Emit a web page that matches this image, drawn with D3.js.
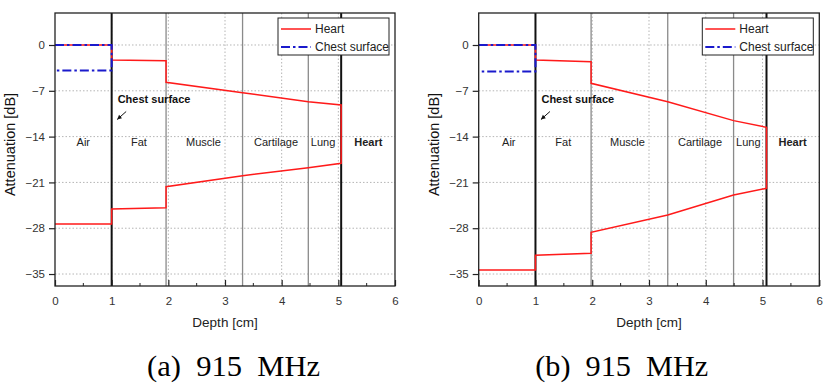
<!DOCTYPE html>
<html>
<head>
<meta charset="utf-8">
<script src="https://cdn.jsdelivr.net/npm/d3@7/dist/d3.min.js"></script>
<style>
  html, body { margin: 0; padding: 0; background: #fff; }
  svg { display: block; }
  text { font-family: "Liberation Sans", Arial, sans-serif; }
  text.subtitle { font-family: "Liberation Serif", "Times New Roman", serif; }
</style>
</head>
<body>
<svg id="chart" width="827" height="387"></svg>
<script>
// ---------------- data ----------------
const xTicks = [0, 1, 2, 3, 4, 5, 6];
const xMinorTicks = [0.5, 1.5, 2.5, 3.5, 4.5, 5.5];
const yTicks = [0, -7, -14, -21, -28, -35];
const layerNames = ["Air", "Fat", "Muscle", "Cartilage", "Lung", "Heart"];
const seriesNames = ["Heart", "Chest surface"];
const subtitles = ["(a)  915  MHz", "(b)  915  MHz"];

// layer boundaries (cm)
const boundariesA = [1, 1.96, 3.31, 4.47, 5.05];
const boundariesB = [1, 1.98, 3.33, 4.49, 5.07];
// layer label x positions (cm)
const labelXA = [0.5, 1.48, 2.62, 3.9, 4.73, 5.53];
const labelXB = [0.53, 1.49, 2.62, 3.9, 4.75, 5.53];

// Heart curve (a): depth, attenuation
const heartDepthA = [0, 1, 1, 1.96, 1.96, 3.31, 4.47, 5.05, 5.05, 4.47, 3.31, 1.96, 1.96, 1, 1, 0];
const heartAttA   = [0, 0, -2.3, -2.42, -5.7, -7.29, -8.66, -9.17, -18.08, -18.75, -19.97, -21.65, -24.86, -25.07, -27.36, -27.36];
// Heart curve (b)
const heartDepthB = [0, 1, 1, 1.98, 1.98, 3.33, 4.49, 5.07, 5.07, 4.49, 3.33, 1.98, 1.98, 1, 1, 0];
const heartAttB   = [0, 0, -2.3, -2.55, -5.86, -8.66, -11.56, -12.58, -21.9, -22.93, -25.98, -28.63, -31.84, -32.14, -34.39, -34.39];
// Chest surface curve
const chestDepthA = [0, 1, 1, 0];
const chestAttA   = [0, 0, -3.9, -3.9];
const chestDepthB = [0, 1, 1, 0];
const chestAttB   = [0, 0, -4.05, -4.05];

// ---------------- drawing ----------------
const svg = d3.select("#chart");
const RED = "#ff1a1a", BLUE = "#1a1acc";

function panel(opts) {
  const { left, right, top, bottom, bounds, labelX, hd, ha, cd, ca, subtitle, subX } = opts;
  const x = d3.scaleLinear().domain([0, 6]).range([left, right]);
  const y = d3.scaleLinear().domain([-36.83, 4.89]).range([bottom, top]);
  const g = svg.append("g");

  // grid
  g.append("g").selectAll("line").data(yTicks).join("line")
    .attr("x1", left).attr("x2", right)
    .attr("y1", d => y(d)).attr("y2", d => y(d))
    .attr("stroke", "#b5b5b5").attr("stroke-width", 1).attr("stroke-dasharray", "1.5,2");
  g.append("g").selectAll("line").data(xTicks.slice(1, -1)).join("line")
    .attr("x1", d => x(d)).attr("x2", d => x(d))
    .attr("y1", top).attr("y2", bottom)
    .attr("stroke", "#b5b5b5").attr("stroke-width", 1).attr("stroke-dasharray", "1.5,2");

  // layer boundaries
  g.append("g").selectAll("line").data(bounds).join("line")
    .attr("x1", d => x(d)).attr("x2", d => x(d))
    .attr("y1", top).attr("y2", bottom)
    .attr("stroke", (d, i) => (i === 0 || i === bounds.length - 1) ? "#111" : "#8a8a8a")
    .attr("stroke-width", (d, i) => (i === 0 || i === bounds.length - 1) ? 2 : 1.3);

  // layer labels
  g.append("g").selectAll("text").data(layerNames).join("text")
    .attr("x", (d, i) => x(labelX[i])).attr("y", y(-14) + 9)
    .attr("text-anchor", "middle").attr("font-size", 11)
    .attr("font-weight", (d, i) => i === layerNames.length - 1 ? "bold" : "normal")
    .attr("fill", "#222").text(d => d);

  // series
  const line = d3.line().x(d => x(d[0])).y(d => y(d[1]));
  g.append("path").datum(hd.map((v, i) => [v, ha[i]]))
    .attr("d", line).attr("fill", "none").attr("stroke", RED).attr("stroke-width", 1.5);
  g.append("path").datum(cd.map((v, i) => [v, ca[i]]))
    .attr("d", line).attr("fill", "none").attr("stroke", BLUE).attr("stroke-width", 2)
    .attr("stroke-dasharray", "9,3,2.5,3");

  // frame
  g.append("rect").attr("x", left).attr("y", top).attr("width", right - left).attr("height", bottom - top)
    .attr("fill", "none").attr("stroke", "#222").attr("stroke-width", 1.3);

  // axes
  const xa = g.append("g").attr("transform", `translate(0,${bottom})`)
    .call(d3.axisBottom(x).tickValues(xTicks).tickSize(-6).tickPadding(11).tickFormat(d3.format("d")));
  xa.select(".domain").remove();
  xa.selectAll("line").attr("stroke", "#222").attr("stroke-width", 1.2);
  xa.selectAll("text").attr("font-size", 11.5).attr("fill", "#333");
  g.append("g").selectAll("line").data(xMinorTicks).join("line")
    .attr("x1", d => x(d)).attr("x2", d => x(d)).attr("y1", bottom).attr("y2", bottom - 3)
    .attr("stroke", "#222").attr("stroke-width", 1);

  const ya = g.append("g").attr("transform", `translate(${left},0)`)
    .call(d3.axisLeft(y).tickValues(yTicks).tickSize(6).tickPadding(4).tickFormat(d3.format("d")));
  ya.select(".domain").remove();
  ya.selectAll("line").attr("stroke", "#222").attr("stroke-width", 1.2);
  ya.selectAll("text").attr("font-size", 11.5).attr("fill", "#333");

  // axis titles
  g.append("text").attr("x", (left + right) / 2).attr("y", 327)
    .attr("text-anchor", "middle").attr("font-size", 13.5).attr("fill", "#222").text("Depth [cm]");
  g.append("text").attr("transform", `translate(${left - 40},${(top + bottom) / 2 - 5}) rotate(-90)`)
    .attr("text-anchor", "middle").attr("font-size", 14.5).attr("fill", "#111").text("Attenuation [dB]");

  // chest surface annotation
  g.append("text").attr("x", x(bounds[0]) + 6).attr("y", 103)
    .attr("font-size", 11).attr("font-weight", "bold").attr("fill", "#111").text("Chest surface");
  const ax1 = x(bounds[0]) + 14.5, ay1 = 111.5, ax2 = x(bounds[0]) + 5.5, ay2 = 119.5;
  g.append("line").attr("x1", ax1).attr("y1", ay1).attr("x2", ax2).attr("y2", ay2)
    .attr("stroke", "#111").attr("stroke-width", 1);
  const ang = Math.atan2(ay2 - ay1, ax2 - ax1);
  const hl = 4.5, hw = 2.2;
  const bx = ax2 - hl * Math.cos(ang), by = ay2 - hl * Math.sin(ang);
  g.append("path")
    .attr("d", `M${ax2},${ay2}L${bx - hw * Math.sin(ang)},${by + hw * Math.cos(ang)}L${bx + hw * Math.sin(ang)},${by - hw * Math.cos(ang)}Z`)
    .attr("fill", "#111");

  // legend
  const lx = right - 117, ly = 18;
  g.append("rect").attr("x", lx).attr("y", ly).attr("width", 111).attr("height", 37)
    .attr("fill", "#fff").attr("stroke", "#222").attr("stroke-width", 1);
  g.append("line").attr("x1", lx + 3).attr("x2", lx + 33).attr("y1", ly + 11).attr("y2", ly + 11)
    .attr("stroke", RED).attr("stroke-width", 1.5);
  g.append("line").attr("x1", lx + 3).attr("x2", lx + 33).attr("y1", ly + 29).attr("y2", ly + 29)
    .attr("stroke", BLUE).attr("stroke-width", 2).attr("stroke-dasharray", "9,3,2.5,3");
  g.append("g").selectAll("text").data(seriesNames).join("text")
    .attr("x", lx + 37).attr("y", (d, i) => ly + 15 + i * 18)
    .attr("font-size", 12).attr("fill", "#222").text(d => d);

  // subtitle
  svg.append("text").attr("class", "subtitle").attr("x", subX).attr("y", 376)
    .attr("text-anchor", "middle")
    .attr("font-size", 30).attr("fill", "#000")
    .attr("textLength", 173).attr("lengthAdjust", "spacingAndGlyphs")
    .style("white-space", "pre").text(subtitle);
}

panel({ left: 55, right: 395, top: 13, bottom: 286, bounds: boundariesA, labelX: labelXA,
        hd: heartDepthA, ha: heartAttA, cd: chestDepthA, ca: chestAttA, subtitle: subtitles[0], subX: 233.5 });
panel({ left: 478.7, right: 819.3, top: 13, bottom: 286, bounds: boundariesB, labelX: labelXB,
        hd: heartDepthB, ha: heartAttB, cd: chestDepthB, ca: chestAttB, subtitle: subtitles[1], subX: 621.7 });
</script>
</body>
</html>
